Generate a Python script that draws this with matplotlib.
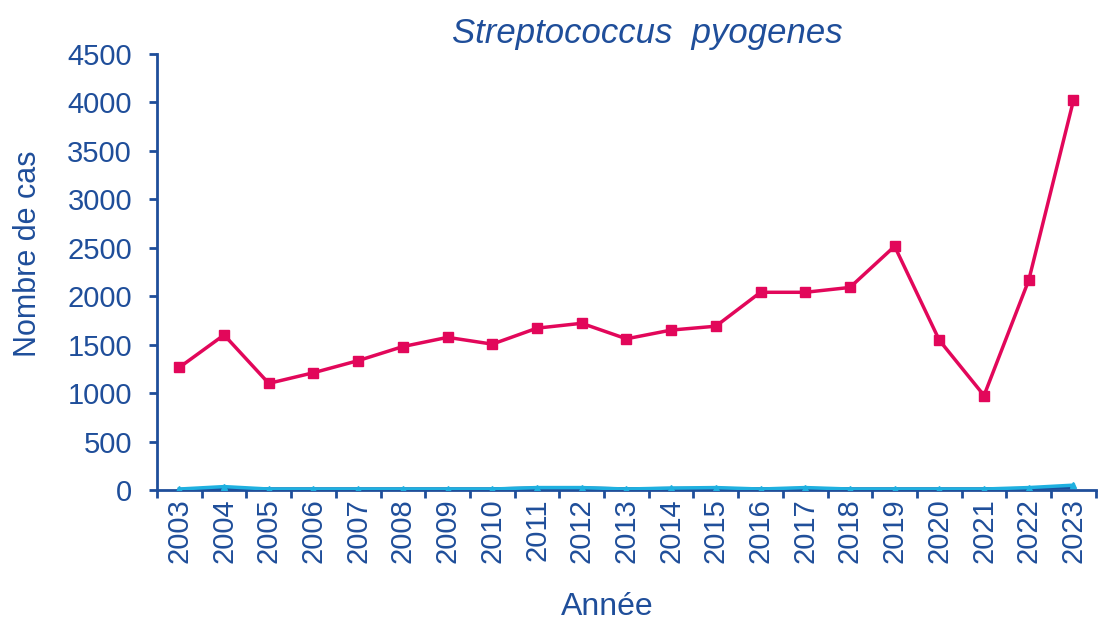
import numpy as np
import matplotlib
matplotlib.use("Agg")
import matplotlib.pyplot as plt

plt.rcParams["font.family"] = ["Liberation Sans", "DejaVu Sans"]

# données
annees = [str(a) for a in range(2003, 2024)]
s_pyogenes = [1265, 1600, 1100, 1210, 1335, 1480, 1575, 1505, 1670, 1720, 1560,
              1650, 1690, 2040, 2040, 2090, 2515, 1545, 975, 2165, 4020]
autre_1 = [10, 35, 10, 10, 10, 10, 10, 10, 25, 25, 10,
           20, 25, 10, 25, 10, 10, 10, 10, 25, 50]
autre_2 = [5, 15, 10, 10, 10, 10, 10, 10, 20, 20, 10,
           15, 15, 10, 15, 10, 10, 10, 10, 15, 25]

bleu = "#1F4E9A"
rose = "#E2075A"
cyan = "#1FB0E0"

fig = plt.figure(figsize=(10.98, 6.23), dpi=100)
ax = fig.add_axes([0.143, 0.2135, 0.855, 0.70])

x = np.arange(len(annees))
ax.plot(x, autre_2, color="#1A4F9C", lw=2.5, zorder=2)
ax.plot(x, autre_1, color=cyan, lw=2.5, marker="^", ms=5, zorder=3)
ax.plot(x, s_pyogenes, color=rose, lw=2.5, marker="s", ms=7, zorder=4)

ax.set_xlim(-0.5, len(annees) - 0.5)
ax.set_ylim(0, 4500)
ax.set_yticks(np.arange(0, 4501, 500))
ax.set_xticks(np.arange(-0.5, len(annees), 1))
ax.set_xticklabels([])
ax.set_xticks(x, minor=True)
ax.set_xticklabels(annees, minor=True, rotation=90)
ax.tick_params(axis="both", which="both", labelsize=21, labelcolor=bleu)
ax.tick_params(axis="x", which="minor", length=0, pad=6)
ax.tick_params(axis="x", which="major", length=6, width=2, color=bleu)
ax.tick_params(axis="y", length=6, width=2, color=bleu, pad=12)

for s in ["top", "right"]:
    ax.spines[s].set_visible(False)
for s in ["left", "bottom"]:
    ax.spines[s].set_color(bleu)
    ax.spines[s].set_linewidth(2)

ax.set_xlabel("Année", fontsize=23, color=bleu)
ax.xaxis.set_label_coords(0.48, -0.234)
ax.set_ylabel("Nombre de cas", fontsize=22, color=bleu)
ax.yaxis.set_label_coords(-0.121, 0.541)
ax.set_title("Streptococcus  pyogenes", fontsize=25, style="italic", color=bleu,
             pad=8, x=0.522)

fig.savefig("out.png", dpi=100)
